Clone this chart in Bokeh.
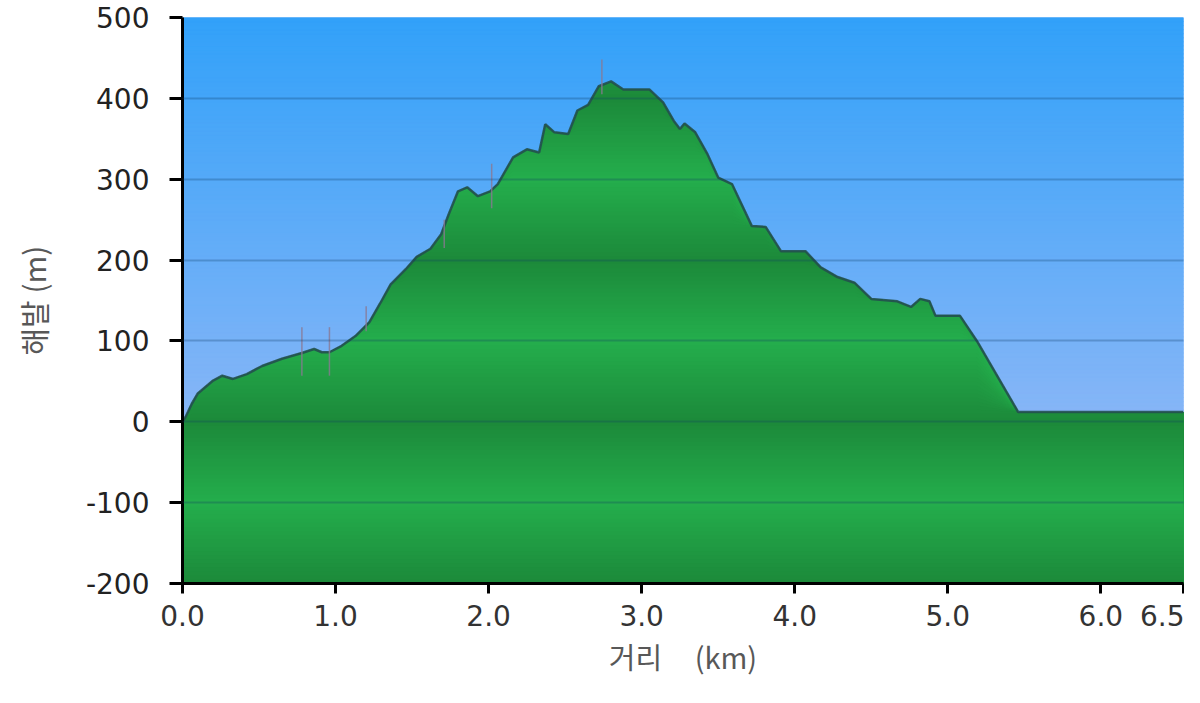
import numpy as np
from bokeh.plotting import figure
from bokeh.models import Range1d, FixedTicker
from bokeh.embed import file_html
from bokeh.resources import INLINE

# ---------------- data ----------------
dist_km = [0.00, 0.02, 0.06, 0.10, 0.20, 0.26, 0.33, 0.42, 0.52, 0.65,
           0.78, 0.86, 0.91, 0.96, 1.04, 1.13, 1.22, 1.29, 1.36, 1.46,
           1.53, 1.62, 1.69, 1.74, 1.80, 1.86, 1.93, 2.01, 2.06, 2.16,
           2.25, 2.33, 2.37, 2.43, 2.52, 2.58, 2.65, 2.72, 2.80, 2.88,
           3.05, 3.14, 3.21, 3.25, 3.28, 3.35, 3.43, 3.50, 3.59, 3.72,
           3.81, 3.91, 4.07, 4.17, 4.28, 4.39, 4.50, 4.67, 4.76, 4.82,
           4.88, 4.92, 5.08, 5.19, 5.46, 6.54]
elev_m = [0, 6, 22, 35, 51, 57, 53, 59, 69, 78,
          85, 90, 86, 86, 94, 106, 123, 146, 170, 189,
          204, 214, 232, 257, 285, 290, 279, 285, 294, 327,
          337, 333, 368, 358, 356, 385, 392, 415, 421, 411,
          411, 395, 372, 362, 369, 358, 331, 302, 294, 242,
          241, 211, 211, 191, 179, 172, 152, 149, 142, 152,
          149, 131, 131, 100, 12, 12]

# thin waypoint marks
marker_km = [0.78, 0.96, 1.20, 1.71, 2.02, 2.74]
marker_lo = [57, 57, 112, 215, 264, 405]
marker_hi = [117, 117, 143, 250, 319, 448]

x_ticks = [0, 1, 2, 3, 4, 5, 6, 6.54]
x_tick_labels = ["0.0", "1.0", "2.0", "3.0", "4.0", "5.0", "6.0", "6.5"]
y_ticks = [-200, -100, 0, 100, 200, 300, 400, 500]
y_tick_labels = ["-200", "-100", "0", "100", "200", "300", "400", "500"]

x_title = "거리" + "\u00a0" * 5 + "(km)"
y_title = "해발 (m)"

X_MIN, X_MAX = 0.0, 6.54
Y_MIN, Y_MAX = -200, 500

dist = np.array(dist_km, dtype=float)
elev = np.array(elev_m, dtype=float)


def hexc(rgb):
    return "#%02x%02x%02x" % tuple(int(round(c)) for c in rgb)


SKY_TOP = np.array([50, 161, 249])
SKY_LOW = np.array([136, 182, 247])
G_BRIGHT = np.array([36, 174, 76])
G_DARK = np.array([28, 137, 58])


def sky(e):
    t = np.clip(e / 500.0, 0, 1)
    return hexc(SKY_LOW + (SKY_TOP - SKY_LOW) * t)


def green(e):
    d = 1 - abs(((e - 100) % 200) - 100) / 100.0
    return hexc(G_BRIGHT + (G_DARK - G_BRIGHT) * d)


p = figure(frame_width=1001, frame_height=566,
           min_border_left=182, min_border_right=1,
           min_border_top=17, min_border_bottom=104,
           x_range=Range1d(X_MIN, X_MAX), y_range=Range1d(Y_MIN, Y_MAX),
           output_backend="svg", toolbar_location=None)
p.outline_line_color = None
p.background_fill_color = "#86b5f7"
p.border_fill_color = "white"

# sky gradient
step = 5
edges = np.arange(Y_MIN, Y_MAX, step)
sky_cols = [sky(e + step / 2) for e in edges]
p.quad(left=X_MIN, right=X_MAX, bottom=edges, top=edges + step,
       fill_color=sky_cols, line_color=sky_cols, line_width=1)

# green terrain with banded gradient
for t in np.arange(430, Y_MIN, -step):
    p.varea(x=dist, y1=Y_MIN, y2=np.minimum(elev, t),
            fill_color=green(t - step / 2))

# outline of the profile
p.line(dist, elev, line_color="#24504f", line_width=2.5, line_alpha=0.9)

# waypoint marks
p.segment(x0=marker_km, x1=marker_km, y0=marker_lo, y1=marker_hi,
          line_color="#8a7892", line_width=1.5, line_alpha=0.8)

# grid
p.xgrid.visible = False
p.ygrid.ticker = FixedTicker(ticks=y_ticks)
p.ygrid.grid_line_color = "#0d3d66"
p.ygrid.grid_line_alpha = 0.28
p.ygrid.grid_line_width = 2
p.ygrid.level = "overlay"

# axes
for ax in (p.xaxis[0], p.yaxis[0]):
    ax.axis_line_width = 3
    ax.axis_line_color = "black"
    ax.major_tick_line_width = 3
    ax.major_tick_line_color = "black"
    ax.minor_tick_line_color = None
    ax.major_tick_in = 0
    ax.major_label_text_font = "DejaVu Sans"
    ax.major_label_text_font_size = "28px"
    ax.axis_label_text_font = "Noto Sans CJK KR"
    ax.axis_label_text_font_style = "normal"
    ax.axis_label_text_color = "#585858"

p.xaxis.ticker = FixedTicker(ticks=x_ticks)
p.xaxis.major_tick_out = 10
p.xaxis.major_label_standoff = 11
p.xaxis.major_label_text_color = "#333333"
p.xaxis.major_label_overrides = {v: l for v, l in zip(x_ticks, x_tick_labels)}
p.xaxis.axis_label = x_title
p.xaxis.axis_label_text_font_size = "29px"
p.xaxis.axis_label_standoff = 6

p.yaxis.ticker = FixedTicker(ticks=y_ticks)
p.yaxis.major_tick_out = 13
p.yaxis.major_label_standoff = 20
p.yaxis.major_label_text_color = "#222222"
p.yaxis.major_label_overrides = {v: l for v, l in zip(y_ticks, y_tick_labels)}
p.yaxis.axis_label = y_title
p.yaxis.axis_label_text_font_size = "30px"
p.yaxis.axis_label_standoff = 28

open("out.html", "w").write(file_html(p, INLINE))
